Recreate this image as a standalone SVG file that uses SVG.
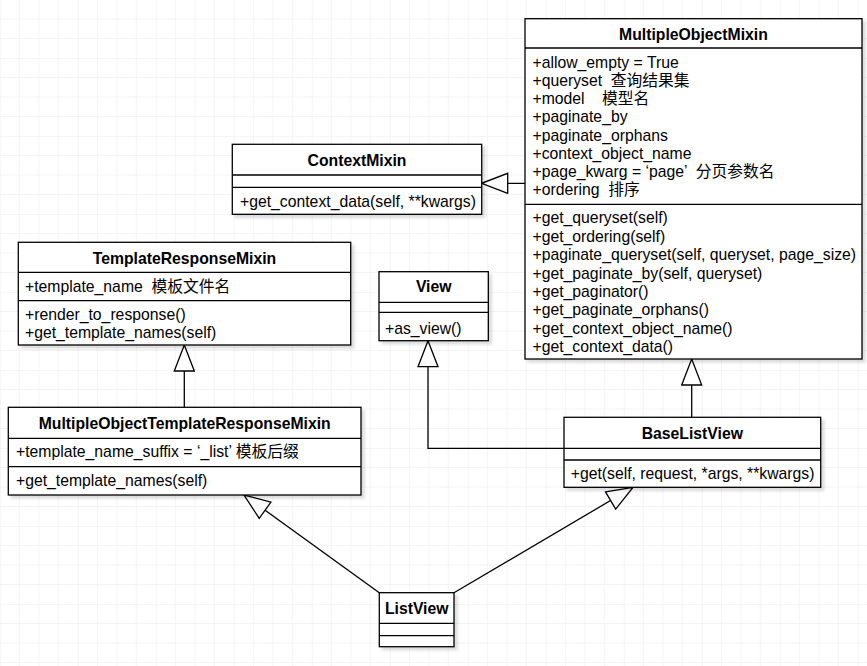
<svg xmlns="http://www.w3.org/2000/svg" width="867" height="666" viewBox="0 0 867 666">
<defs>
<pattern id="grid" x="-0.2" y="-20" width="78" height="78" patternUnits="userSpaceOnUse">
<path d="M19.5,0V78M39,0V78M58.5,0V78M0,19.5H78M0,39H78M0,58.5H78" stroke="#f4f4f4" stroke-width="1" fill="none"/>
<path d="M0,0V78M0,0H78" stroke="#ececec" stroke-width="1" fill="none"/>
</pattern>
<filter id="sh" x="-10%" y="-10%" width="130%" height="130%">
<feGaussianBlur in="SourceAlpha" stdDeviation="1.8"/>
<feOffset dx="3" dy="3" result="b"/>
<feFlood flood-color="#000" flood-opacity="0.14"/>
<feComposite in2="b" operator="in"/>
<feMerge><feMergeNode/><feMergeNode in="SourceGraphic"/></feMerge>
</filter>
<marker id="inh" markerUnits="userSpaceOnUse" markerWidth="28" markerHeight="22" refX="26" refY="10" orient="auto" viewBox="-1 -1 28 22">
<path d="M0,0L26,10L0,20Z" fill="#fff" stroke="#000" stroke-width="1.3"/>
</marker>
</defs>
<style>
.box{fill:#fff;stroke:#000;stroke-width:1.3}
.ln{stroke:#000;stroke-width:1.3;fill:none}
text{font-family:"Liberation Sans","Noto Sans CJK SC",Arial,sans-serif;font-size:15.75px;fill:#000;white-space:pre}
.t{font-weight:bold;text-anchor:middle}
.edge{stroke:#000;stroke-width:1.3;fill:none;marker-end:url(#inh)}
</style>
<rect width="867" height="666" fill="#fff"/>
<rect width="867" height="666" fill="url(#grid)"/>

<g id="connectors">
<path class="edge" d="M525,183.3H481.7"/>
<path class="edge" d="M184.3,407.3V345"/>
<path class="edge" d="M564,448.3H428V340.7"/>
<path class="edge" d="M691.7,417.3V359"/>
<path class="edge" d="M379.3,592.7L244,495"/>
<path class="edge" d="M454,592.7L633,487.3"/>
</g>

<g id="MultipleObjectMixin">
<rect class="box" x="525" y="18.7" width="337" height="340.3" filter="url(#sh)"/>
<path class="ln" d="M525,48H862M525,204.3H862"/>
<text class="t" x="693.5" y="39.6">MultipleObjectMixin</text>
<text x="532.5" y="67.7">+allow_empty = True</text>
<text x="532.5" y="85.9">+queryset  查询结果集</text>
<text x="532.5" y="104.1">+model    模型名</text>
<text x="532.5" y="122.3">+paginate_by</text>
<text x="532.5" y="140.5">+paginate_orphans</text>
<text x="532.5" y="158.7">+context_object_name</text>
<text x="532.5" y="176.9">+page_kwarg = ‘page’  分页参数名</text>
<text x="532.5" y="195.1">+ordering  排序</text>
<text x="532.5" y="223.3">+get_queryset(self)</text>
<text x="532.5" y="241.7">+get_ordering(self)</text>
<text x="532.5" y="260.1">+paginate_queryset(self, queryset, page_size)</text>
<text x="532.5" y="278.5">+get_paginate_by(self, queryset)</text>
<text x="532.5" y="296.9">+get_paginator()</text>
<text x="532.5" y="315.3">+get_paginate_orphans()</text>
<text x="532.5" y="333.7">+get_context_object_name()</text>
<text x="532.5" y="352.1">+get_context_data()</text>
</g>

<g id="ContextMixin">
<rect class="box" x="232.3" y="144.3" width="249.4" height="70" filter="url(#sh)"/>
<path class="ln" d="M232.3,175H481.7M232.3,187.3H481.7"/>
<text class="t" x="357" y="165.6">ContextMixin</text>
<text x="240" y="206.6">+get_context_data(self, **kwargs)</text>
</g>

<g id="TemplateResponseMixin">
<rect class="box" x="18.3" y="242.3" width="332.4" height="102.7" filter="url(#sh)"/>
<path class="ln" d="M18.3,272.3H350.7M18.3,300.7H350.7"/>
<text class="t" x="184.5" y="263.9">TemplateResponseMixin</text>
<text x="25" y="292.3">+template_name  模板文件名</text>
<text x="25" y="319.9">+render_to_response()</text>
<text x="25" y="338.3">+get_template_names(self)</text>
</g>

<g id="View">
<rect class="box" x="379" y="271.7" width="109.3" height="69" filter="url(#sh)"/>
<path class="ln" d="M379,302.3H488.3M379,312.3H488.3"/>
<text class="t" x="433.7" y="292.3">View</text>
<text x="385" y="333.9">+as_view()</text>
</g>

<g id="MultipleObjectTemplateResponseMixin">
<rect class="box" x="8.3" y="407.3" width="352.7" height="87.7" filter="url(#sh)"/>
<path class="ln" d="M8.3,438.3H361M8.3,466.7H361"/>
<text class="t" x="184.7" y="428.9">MultipleObjectTemplateResponseMixin</text>
<text x="16" y="457.3">+template_name_suffix = ‘_list’ 模板后缀</text>
<text x="16" y="485.6">+get_template_names(self)</text>
</g>

<g id="BaseListView">
<rect class="box" x="564" y="417.3" width="256.7" height="70" filter="url(#sh)"/>
<path class="ln" d="M564,448.3H820.7M564,460H820.7"/>
<text class="t" x="692.3" y="438.9">BaseListView</text>
<text x="570.7" y="478.9">+get(self, request, *args, **kwargs)</text>
</g>

<g id="ListView">
<rect class="box" x="379.3" y="592.7" width="74.7" height="54" filter="url(#sh)"/>
<path class="ln" d="M379.3,623.3H454M379.3,635.7H454"/>
<text class="t" x="416.7" y="613.9">ListView</text>
</g>
</svg>
